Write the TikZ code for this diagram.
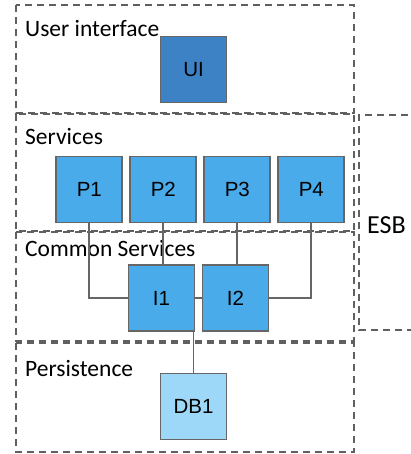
\documentclass[tikz,border=0pt]{standalone}
\usepackage{fontspec}
\setmainfont{Carlito}
\newfontfamily\boxfont{Liberation Sans}
\definecolor{dashgray}{HTML}{606060}
\definecolor{edgegray}{HTML}{666666}
\definecolor{uiblue}{HTML}{3E82C6}
\definecolor{pblue}{HTML}{4AABEB}
\definecolor{dbblue}{HTML}{9DD8F8}
\tikzset{
  layerbox/.style={draw=dashgray, line width=1.6pt, dash pattern=on 7pt off 5pt},
  layerlabel/.style={anchor=base west, inner sep=0pt, font=\fontsize{23.5}{26}\selectfont},
  comp/.style={draw=edgegray, line width=1.7pt, minimum width=66pt, minimum height=66pt,
    inner sep=0pt, font=\boxfont\fontsize{20.5}{23}\selectfont},
  link/.style={draw=edgegray, line width=1.7pt}
}
\begin{document}
\begin{tikzpicture}[x=1pt,y=-1pt]
\useasboundingbox (0,0) rectangle (411,454);
% layer boxes
\draw[layerbox] (16,5) rectangle (354,113);
\draw[layerbox] (16,114) rectangle (354,231);
\draw[layerbox] (16,232) rectangle (354,341);
\draw[layerbox] (16,343) rectangle (354,452);
\draw[layerbox] (420,115) -- (359,115) -- (359,330) -- (420,330);
% layer labels
\node[layerlabel] (lui) at (25,36.5) {User interface};
\node[layerlabel] (lsv) at (25,145) {Services};
\node[layerlabel] (lcs) at (25,256) {Common Services};
\node[layerlabel] (lps) at (25,376.5) {Persistence};
\node[anchor=base west, inner sep=0pt, font=\fontsize{26}{28}\selectfont] (lesb) at (367,233) {ESB};
% components
\node[comp, fill=uiblue] (UI) at (193.5,69.5) {UI};
\node[comp, fill=pblue] (P1) at (89.3,189.5) {P1};
\node[comp, fill=pblue] (P2) at (163.3,189.5) {P2};
\node[comp, fill=pblue] (P3) at (237.3,189.5) {P3};
\node[comp, fill=pblue] (P4) at (311.3,189.5) {P4};
\node[comp, fill=pblue] (I1) at (161.5,298) {I1};
\node[comp, fill=pblue] (I2) at (235.5,298) {I2};
\node[comp, fill=dbblue] (DB1) at (193.5,406.5) {DB1};
% connectors
\draw[link] (P1.south) |- (I1.west);
\draw[link] (P2.south) -- (P2.south |- I1.north);
\draw[link] (P3.south) -- (P3.south |- I2.north);
\draw[link] (P4.south) |- (I2.east);
\draw[link] (I1.east) -- (I2.west);
\draw[link] (DB1.north) -- (DB1.north |- I1.south);
\end{tikzpicture}
\end{document}
